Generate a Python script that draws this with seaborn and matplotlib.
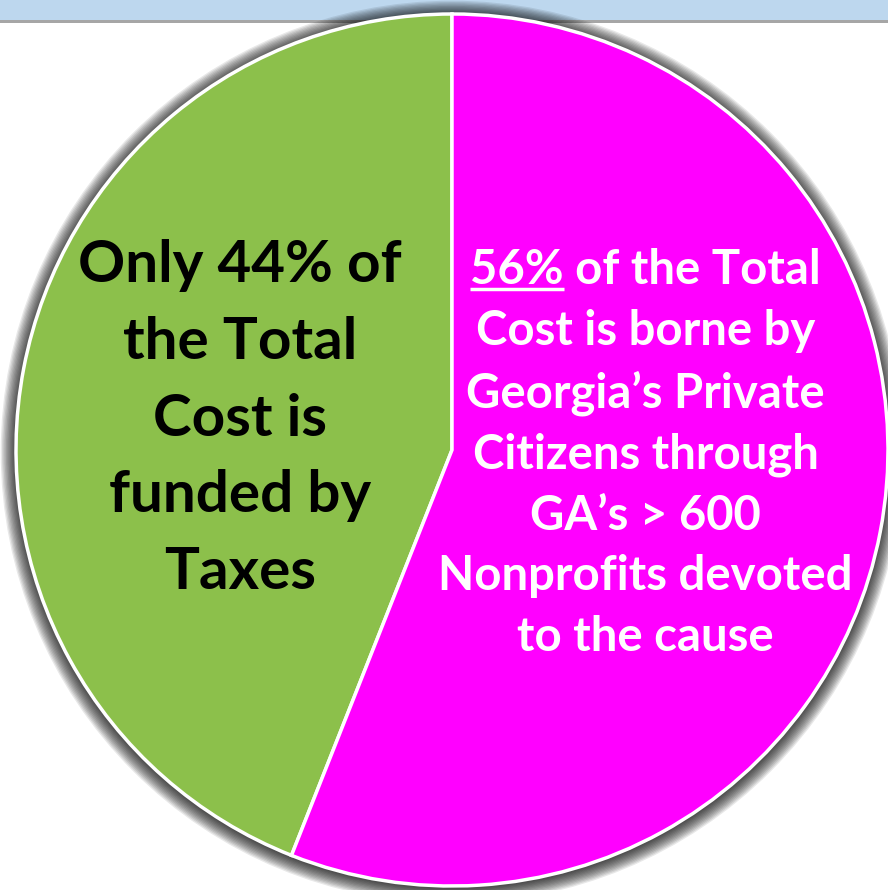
import numpy as np
import matplotlib
matplotlib.use("Agg")
import matplotlib.pyplot as plt
import seaborn as sns
from matplotlib.patches import Circle, Rectangle

# data
labels = ["Taxes", "Private Citizens / Nonprofits"]
shares = [44, 56]
colors = ["#8CC04B", "#FF00FF"]
green_text = "Only 44% of\nthe Total\nCost is\nfunded by\nTaxes"
pink_first = "56% of the Total"
pink_underlined = "56%"
pink_rest = "Cost is borne by\nGeorgia\u2019s Private\nCitizens through\nGA\u2019s > 600\nNonprofits devoted\nto the cause"

sns.set_theme(style="white")
plt.rcParams["font.family"] = ["Lato", "DejaVu Sans"]

W, H = 888, 890
fig = plt.figure(figsize=(W / 100, H / 100), dpi=100)
ax = fig.add_axes([0, 0, 1, 1])

# blue header strip
ax.add_patch(Rectangle((0, H - 20), W, 20, color="#BDD7EE", zorder=0, lw=0))
ax.add_patch(Rectangle((0, H - 23), W, 3, color="#A6A6A6", zorder=0, lw=0))

cx, cy, R = 452, 440, 436

# soft shadow around the pie
for i in range(12):
    ax.add_patch(Circle((cx, cy - 2), R + 1 + i * 1.3, color="black",
                        alpha=0.09, zorder=1, lw=0))

ax.pie(shares, colors=colors, startangle=90, counterclock=True,
       center=(cx, cy), radius=R, frame=True,
       wedgeprops=dict(edgecolor="white", linewidth=2.5, zorder=2))
ax.set_xlim(0, W)
ax.set_ylim(0, H)
ax.set_aspect("equal")
ax.axis("off")

ax.text(0.270, 1 - 419 / H, green_text, transform=ax.transAxes, ha="center",
        va="center", fontsize=42, fontweight="bold", color="black",
        linespacing=1.55, zorder=5)

t1 = ax.text(0.727, 1 - 270 / H, pink_first, transform=ax.transAxes,
             ha="center", va="center", fontsize=34, fontweight="bold",
             color="white", zorder=5)
ax.text(0.727, 1 - 484 / H, pink_rest,
        transform=ax.transAxes, ha="center", va="center", fontsize=34,
        fontweight="bold", color="white", linespacing=1.46, zorder=5)

# underline the percentage
fig.canvas.draw()
r = fig.canvas.get_renderer()
bb = t1.get_window_extent(r)
tmp = ax.text(0, 0, pink_underlined, fontsize=34, fontweight="bold")
wu = tmp.get_window_extent(r).width
tmp.remove()
inv = ax.transData.inverted()
x0, y0 = inv.transform((bb.x0, bb.y0))
x1, _ = inv.transform((bb.x0 + wu, bb.y0))
ax.plot([x0, x1], [y0 + 3, y0 + 3], color="white", lw=2.5, zorder=5,
        solid_capstyle="butt")

fig.savefig("out.png", dpi=100)
